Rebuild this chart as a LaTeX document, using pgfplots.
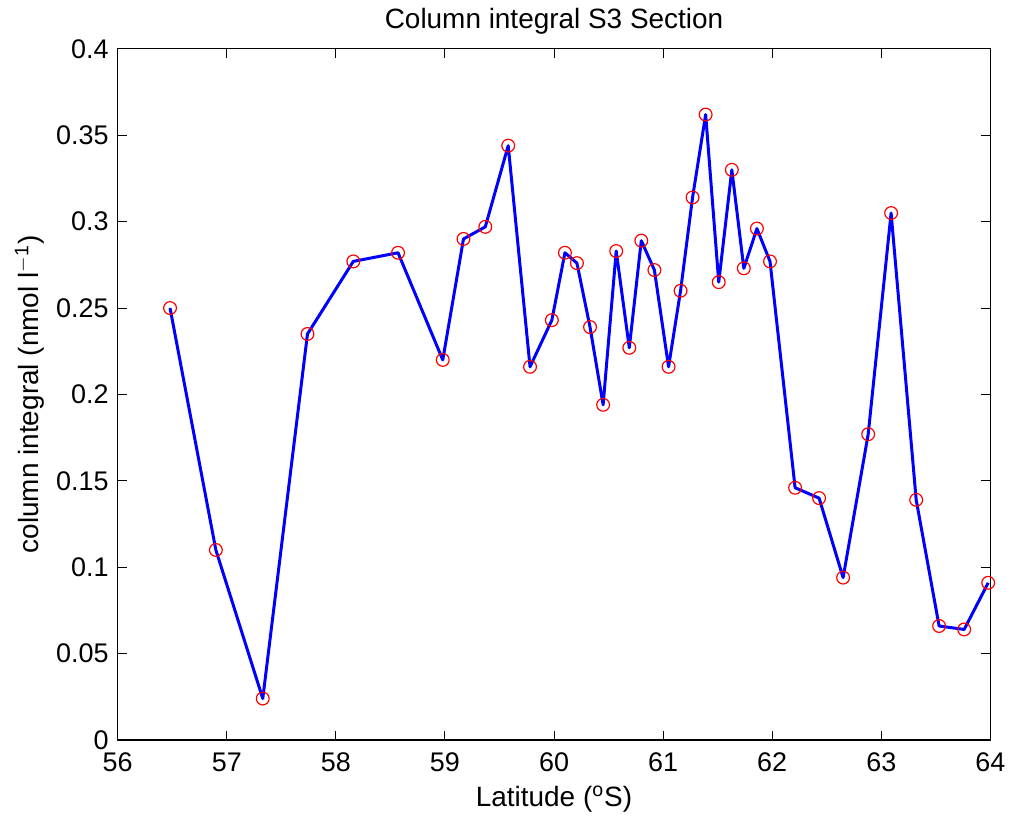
\documentclass[border=0pt]{standalone}
\usepackage{fontspec}
\setmainfont{Liberation Sans}
\usepackage{pgfplots}
\pgfplotsset{compat=1.18}
\begin{document}
\begin{tikzpicture}
\begin{axis}[
  name=ax,
  scale only axis,
  width=437.5pt, height=346.5pt,
  xmin=56, xmax=64, ymin=0, ymax=0.4,
  xtick={56,57,...,64},
  ytick={0,0.05,0.1,0.15,0.2,0.25,0.3,0.35,0.4},
  yticklabel style={/pgf/number format/fixed,/pgf/number format/precision=2},
  /pgf/number format/assume math mode=true,
  tick align=inside,
  major tick length=4.5pt,
  tick style={black, line width=0.5pt},
  axis line style={black, line width=0.6pt},
  ticklabel style={font=\fontsize{13.5}{16}\selectfont},
  xticklabel style={yshift=-3pt},
  yticklabel style={xshift=-1pt},
  xlabel={Latitude ($^{\mathrm{o}}$S)},
  ylabel={column integral (nmol l$^{\mathrm{ -1}}$)},
  label style={font=\fontsize{14}{16}\selectfont},
  title={Column integral S3 Section},
  title style={font=\fontsize{14}{16}\selectfont, yshift=-2pt},
  xlabel style={yshift=0pt},
  ylabel style={yshift=-1pt},
]
\addplot[blue, line width=1.5pt, line join=round, mark=o, mark size=3.2pt,
  mark options={red, line width=0.6pt}] coordinates {
(56.48,0.250) (56.90,0.110) (57.33,0.024) (57.74,0.235) (58.16,0.277)
(58.57,0.282) (58.98,0.220) (59.17,0.290) (59.37,0.297) (59.58,0.344)
(59.78,0.216) (59.98,0.243) (60.10,0.282) (60.21,0.276) (60.33,0.239)
(60.45,0.194) (60.57,0.283) (60.69,0.227) (60.80,0.289) (60.92,0.272)
(61.05,0.216) (61.16,0.260) (61.27,0.314) (61.39,0.362) (61.51,0.265)
(61.63,0.330) (61.74,0.273) (61.86,0.296) (61.98,0.277) (62.21,0.146)
(62.43,0.140) (62.65,0.094) (62.88,0.177) (63.09,0.305) (63.32,0.139)
(63.53,0.066) (63.76,0.064) (63.98,0.091)
};
\end{axis}
\path (ax.south west) ++(-59pt,-41.5pt) coordinate (bl);
\path (ax.north east) ++(9.5pt,24.5pt) coordinate (tr);
\path (bl) rectangle (tr);
\end{tikzpicture}
\end{document}
